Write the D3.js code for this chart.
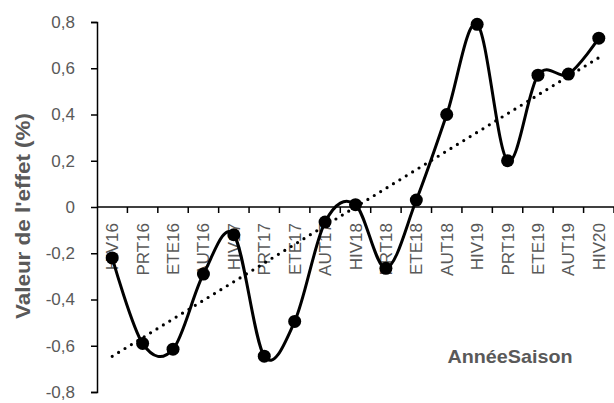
<!DOCTYPE html>
<html><head><meta charset="utf-8">
<script src="https://cdn.jsdelivr.net/npm/d3@7"></script>
<style>body{margin:0;background:#fff}svg{display:block}</style>
</head><body>
<script>
const categories = ["HIV16","PRT16","ETE16","AUT16","HIV17","PRT17","ETE17","AUT17","HIV18","PRT18","ETE18","AUT18","HIV19","PRT19","ETE19","AUT19","HIV20"];
const values = [-0.22,-0.59,-0.615,-0.29,-0.12,-0.645,-0.495,-0.065,0.01,-0.265,0.03,0.40,0.79,0.20,0.57,0.575,0.73];
const yTicks = [-0.8,-0.6,-0.4,-0.2,0,0.2,0.4,0.6,0.8];
const yTitle = "Valeur de  l'effet (%)";
const xTitle = "AnnéeSaison";

const W = 614, H = 403;
const svg = d3.select("body").append("svg").attr("width", W).attr("height", H);
const x = d3.scaleBand().domain(categories).range([97, 614]);
const y = d3.scaleLinear().domain([-0.8, 0.8]).range([392, 22]);
const cx = d => x(d) + x.bandwidth() / 2;
const gray = "#595959";
const font = "'Liberation Sans', Arial, sans-serif";
const fmt = d => d === 0 ? "0" : d3.format(".1f")(d).replace(".", ",").replace("−", "-");

// y axis
const yAxis = svg.append("g").attr("transform", "translate(97,0)")
  .call(d3.axisLeft(y).tickValues(yTicks).tickSize(6).tickFormat(fmt));
yAxis.select(".domain").attr("stroke", "#000").attr("stroke-width", 1.5);
yAxis.selectAll(".tick line").attr("stroke", "#000").attr("stroke-width", 1.5);
yAxis.selectAll(".tick text").attr("fill", gray).attr("font-size", 17).attr("font-family", font).attr("x", -22);

// x axis at zero
const xAxisG = svg.append("g").attr("transform", `translate(0,${y(0)})`);
xAxisG.append("line").attr("x1", 97).attr("x2", 614).attr("stroke", "#000").attr("stroke-width", 1.5);
xAxisG.selectAll("line.tk").data(categories).enter().append("line").attr("class", "tk")
  .attr("x1", d => x(d) + x.bandwidth()).attr("x2", d => x(d) + x.bandwidth())
  .attr("y1", 0).attr("y2", 6).attr("stroke", "#000").attr("stroke-width", 1.5);
xAxisG.selectAll("text").data(categories).enter().append("text")
  .attr("transform", d => `translate(${cx(d) + 6},16) rotate(-90)`)
  .attr("text-anchor", "end").attr("fill", gray).attr("font-size", 17).attr("font-family", font)
  .text(d => d);

// trendline (linear regression)
const n = values.length;
const mx = d3.mean(values, (v, i) => i), my = d3.mean(values);
const slope = d3.sum(values, (v, i) => (i - mx) * (v - my)) / d3.sum(values, (v, i) => (i - mx) ** 2);
const icpt = my - slope * mx;
svg.append("line")
  .attr("x1", cx(categories[0])).attr("y1", y(icpt))
  .attr("x2", cx(categories[n - 1])).attr("y2", y(icpt + slope * (n - 1)))
  .attr("stroke", "#000").attr("stroke-width", 3.2).attr("stroke-linecap", "round")
  .attr("stroke-dasharray", "0 7.5");

// smoothed line
const line = d3.line().x((v, i) => cx(categories[i])).y(v => y(v)).curve(d3.curveCardinal.tension(0));
svg.append("path").datum(values).attr("d", line).attr("fill", "none")
  .attr("stroke", "#000").attr("stroke-width", 3);
svg.selectAll("circle.pt").data(values).enter().append("circle").attr("class", "pt")
  .attr("cx", (v, i) => cx(categories[i])).attr("cy", v => y(v)).attr("r", 6.5).attr("fill", "#000");

// titles
svg.append("text").attr("transform", `translate(30,216) rotate(-90)`).attr("text-anchor", "middle")
  .attr("fill", gray).attr("font-size", 20).attr("font-weight", "bold").attr("font-family", font)
  .attr("textLength", 206).attr("lengthAdjust", "spacingAndGlyphs").text(yTitle);
svg.append("text").attr("x", 510).attr("y", 363).attr("text-anchor", "middle")
  .attr("fill", gray).attr("font-size", 19).attr("font-weight", "bold").attr("font-family", font)
  .attr("textLength", 125).attr("lengthAdjust", "spacingAndGlyphs").text(xTitle);
</script>
</body></html>
